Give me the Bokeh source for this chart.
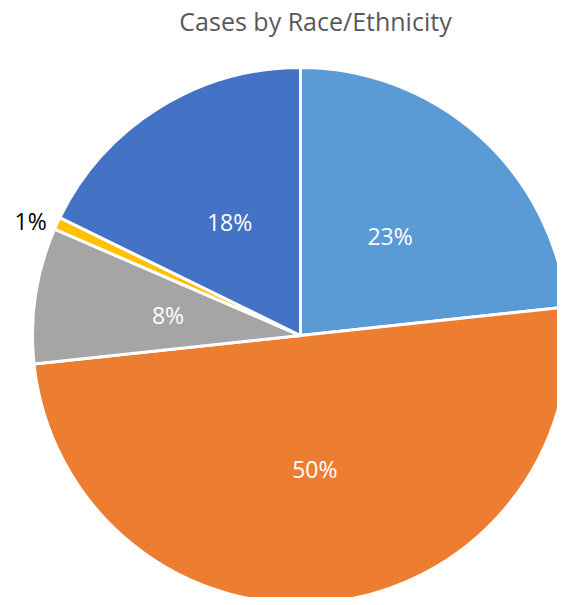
import numpy as np
from bokeh.plotting import figure
from bokeh.models import Range1d, ColumnDataSource
from bokeh.core.properties import value
from bokeh.embed import file_html
from bokeh.resources import INLINE

# data (clockwise from 12 o'clock)
categories = ["Slice A", "Slice B", "Slice C", "Slice D", "Slice E"]
shares = [23.3, 50.0, 8.2, 0.75, 17.75]
labels = ["23%", "50%", "8%", "1%", "18%"]
colors = ["#5B9BD5", "#ED7D31", "#A5A5A5", "#FFC000", "#4472C4"]
title_text = "Cases by Race/Ethnicity"

W, H = 557, 597
cx, cy, R = 300, 262, 268

p = figure(width=W, height=H, output_backend="svg", toolbar_location=None,
           x_range=Range1d(0, W), y_range=Range1d(0, H),
           x_axis_location=None, y_axis_location=None,
           min_border=0, outline_line_color=None)
p.grid.visible = False
p.background_fill_color = "white"
p.border_fill_color = "white"

frac = np.array(shares) / np.sum(shares)
cum = np.concatenate([[0], np.cumsum(frac)])
start = np.pi / 2 - cum[1:] * 2 * np.pi
end = np.pi / 2 - cum[:-1] * 2 * np.pi
mid = (start + end) / 2

src = ColumnDataSource(dict(start=start, end=end, color=colors, cat=categories))
p.wedge(x=cx, y=cy, radius=R, start_angle="start", end_angle="end",
        direction="anticlock", fill_color="color", line_color="white",
        line_width=3, source=src)

inside = frac >= 0.02
r_in = 0.5 * R
r_out = 1.08 * R
lr = np.where(inside, r_in, r_out)
lx = cx + lr * np.cos(mid)
ly = cy + lr * np.sin(mid)

lsrc_in = ColumnDataSource(dict(x=lx[inside], y=ly[inside],
                                t=[l for l, i in zip(labels, inside) if i]))
p.text(x="x", y="y", text="t", text_color="white", source=lsrc_in,
       text_align="center", text_baseline="middle",
       text_font=value("Open Sans"), text_font_size="23px")

out = ~inside
lsrc_out = ColumnDataSource(dict(x=lx[out], y=ly[out],
                                 t=[l for l, i in zip(labels, inside) if not i]))
p.text(x="x", y="y", text="t", text_color="black", source=lsrc_out,
       text_align="center", text_baseline="middle", x_offset=-7, y_offset=7,
       text_font=value("Open Sans"), text_font_size="23px")

p.text(x=[315], y=[577], text=[title_text], text_color="#595959",
       text_align="center", text_baseline="middle",
       text_font=value("Open Sans"), text_font_size="25px")

open("out.html", "w").write(file_html(p, INLINE))
